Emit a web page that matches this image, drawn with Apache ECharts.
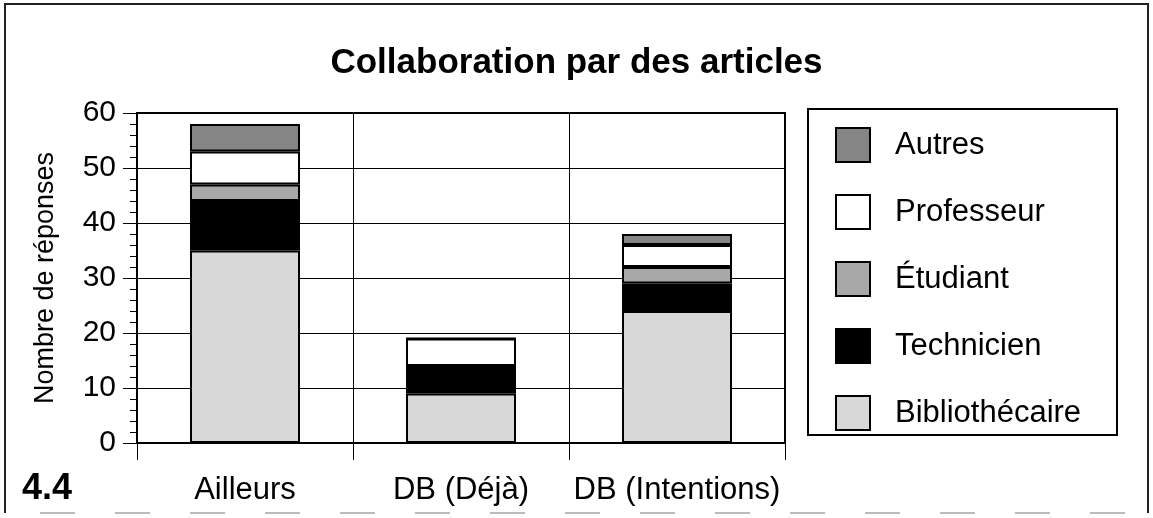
<!DOCTYPE html>
<html>
<head>
<meta charset="utf-8">
<script src="https://cdn.jsdelivr.net/npm/echarts@6/dist/echarts.min.js"></script>
<style>
  html, body { margin: 0; padding: 0; background: #fff; }
  #chart { width: 1153px; height: 518px; }
</style>
</head>
<body>
<div id="chart"></div>
<script>
const categories = ['Ailleurs', 'DB (Déjà)', 'DB (Intentions)']
const bibliothecaire = [35, 9, 24]
const technicien = [9, 5, 5]
const etudiant = [3, 0, 3]
const professeur = [6, 5, 4]
const autres = [5, 0, 2]
const yTicks = [0, 10, 20, 30, 40, 50, 60]

const font = 'Liberation Sans, Arial, Helvetica, sans-serif'

function bar(name, data, color) {
  return {
    name: name,
    type: 'bar',
    stack: 'total',
    barWidth: 110,
    data: data,
    itemStyle: {
      color: color,
      borderColor: '#000',
      borderWidth: 2
    }
  }
}

const chart = echarts.init(document.getElementById('chart'))
chart.setOption({
  animation: false,
  textStyle: { fontFamily: font, color: '#000' },
  title: {
    text: 'Collaboration par des articles',
    left: 'center',
    top: 46,
    padding: 0,
    textStyle: { fontFamily: font, fontSize: 35, fontWeight: 'bold', color: '#000' }
  },
  grid: {
    left: 137, top: 113, right: 368, bottom: 75,
    show: true, borderColor: '#000', borderWidth: 2
  },
  legend: {
    orient: 'vertical',
    left: 835,
    top: 127,
    padding: 0,
    itemWidth: 34,
    itemHeight: 34,
    itemGap: 31,
    icon: 'rect',
    data: ['Autres', 'Professeur', 'Étudiant', 'Technicien', 'Bibliothécaire'],
    textStyle: { fontFamily: font, fontSize: 31, lineHeight: 34, color: '#000', padding: [0, 0, 0, 20] }
  },
  xAxis: {
    type: 'category',
    data: categories,
    axisLine: { lineStyle: { color: '#000', width: 2 } },
    axisTick: { show: true, length: 17, interval: 0, lineStyle: { color: '#000' } },
    splitLine: { show: true, interval: 0, lineStyle: { color: '#000', width: 1 } },
    axisLabel: { fontFamily: font, fontSize: 31, color: '#000', margin: 32, interval: 0 }
  },
  yAxis: {
    type: 'value',
    min: yTicks[0],
    max: yTicks[yTicks.length - 1],
    interval: 10,
    name: 'Nombre de réponses',
    nameLocation: 'middle',
    nameGap: 78,
    nameTextStyle: { fontFamily: font, fontSize: 27, color: '#000' },
    axisLine: { show: true, lineStyle: { color: '#000', width: 2 } },
    axisTick: { show: true, length: 14, lineStyle: { color: '#000' } },
    minorTick: { show: true, splitNumber: 5, length: 7, lineStyle: { color: '#000' } },
    splitLine: { show: true, lineStyle: { color: '#000', width: 1 } },
    axisLabel: { fontFamily: font, fontSize: 30, color: '#000', margin: 21 }
  },
  graphic: [
    // cadre extérieur
    { type: 'polyline', shape: { points: [[5, 513], [5, 4], [1148, 4], [1148, 513]] },
      style: { fill: null, stroke: '#222', lineWidth: 2 } },
    { type: 'line', shape: { x1: 40, y1: 513, x2: 1148, y2: 513 },
      style: { stroke: '#bbb', lineWidth: 2, lineDash: [35, 40] } },
    // cadre de la légende
    { type: 'rect', shape: { x: 808, y: 109, width: 309, height: 326 },
      style: { fill: null, stroke: '#000', lineWidth: 2 }, z: 0 },
    { type: 'text', left: 22, top: 471,
      style: { text: '4.4', fontFamily: font, fontSize: 36, fontWeight: 'bold', fill: '#000' } }
  ],
  series: [
    bar('Bibliothécaire', bibliothecaire, '#d8d8d8'),
    bar('Technicien', technicien, '#000'),
    bar('Étudiant', etudiant, '#a8a8a8'),
    bar('Professeur', professeur, '#fff'),
    bar('Autres', autres, '#858585')
  ]
})
</script>
</body>
</html>
